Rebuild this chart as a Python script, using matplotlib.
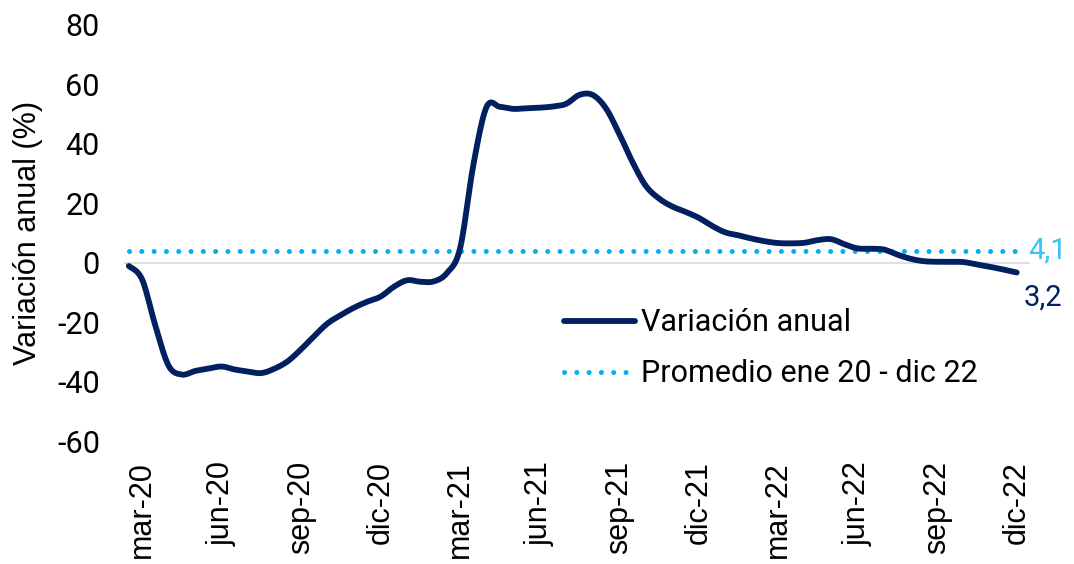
import numpy as np
from matplotlib import pyplot as plt

plt.rcParams['axes.unicode_minus'] = False

# semi-monthly readings, month index 0 = mar-20
meses = np.arange(-0.5, 33.01, 0.5)
variacion = [-1, -5.5, -21, -34.5, -37.5, -36.3, -35.5, -34.8, -35.8, -36.5,
             -37, -35.5, -33, -29, -24.5, -20.3, -17.5, -15, -13, -11.3,
             -8, -5.8, -6.3, -6.2, -3.4, 5, 33, 52.5, 52.5, 51.8,
             52, 52.2, 52.6, 53.5, 56.5, 56.5, 52, 43.5, 34, 26,
             21.7, 19, 17.2, 15.2, 12.5, 10.3, 9.3, 8.2, 7.3, 6.7,
             6.6, 6.8, 7.7, 8, 6.3, 4.9, 4.8, 4.5, 2.8, 1.4,
             0.6, 0.4, 0.4, 0.3, -0.5, -1.3, -2.2, -3.2]
promedio = 4.1
tick_pos = [0, 3, 6, 9, 12, 15, 18, 21, 24, 27, 30, 33]
tick_labels = ['mar-20', 'jun-20', 'sep-20', 'dic-20', 'mar-21', 'jun-21',
               'sep-21', 'dic-21', 'mar-22', 'jun-22', 'sep-22', 'dic-22']

NAVY = '#002060'
CELESTE = '#00B0F0'


def catmull_rom(x, y, n=12):
    # smooth curve through the points, like the Excel smoothed line
    x = np.asarray(x, float)
    y = np.asarray(y, float)
    px = np.concatenate([[x[0]], x, [x[-1]]])
    py = np.concatenate([[y[0]], y, [y[-1]]])
    t = np.linspace(0, 1, n, endpoint=False)
    xs, ys = [], []
    for i in range(1, len(px) - 2):
        for p, out in ((px, xs), (py, ys)):
            p0, p1, p2, p3 = p[i - 1], p[i], p[i + 1], p[i + 2]
            out.extend(0.5 * (2 * p1 + (-p0 + p2) * t + (2 * p0 - 5 * p1 + 4 * p2 - p3) * t ** 2
                              + (-p0 + 3 * p1 - 3 * p2 + p3) * t ** 3))
    xs.append(x[-1])
    ys.append(y[-1])
    return np.array(xs), np.array(ys)


fig = plt.figure(figsize=(10.74, 5.64), dpi=100)
ax = fig.add_axes([0.115, 0.2172, 0.844, 0.7385])

ax.axhline(0, color='#d9d9d9', lw=1.2, zorder=1)
sx, sy = catmull_rom(meses, variacion)
ax.plot(sx, sy, color=NAVY, lw=4.2, solid_capstyle='round', label='Variación anual', zorder=3)
ax.plot(meses, [promedio] * len(meses), color=CELESTE, lw=3.6, linestyle=(0, (0.01, 2.45)),
        dash_capstyle='round', label='Promedio ene 20 - dic 22', zorder=2)

ax.text(33.45, promedio, '4,1', color='#33C3F5', fontsize=21, family='Roboto', va='center', ha='left')
ax.text(33.25, -11.5, '3,2', color=NAVY, fontsize=21, family='Roboto', va='center', ha='left')

ax.set_xlim(-0.7, 33.5)
ax.set_ylim(-60, 80)
ax.set_yticks(range(-60, 81, 20))
ax.set_xticks(tick_pos)
ax.set_xticklabels(tick_labels, rotation=90, family='Liberation Sans', fontsize=22)
for lab in ax.get_yticklabels():
    lab.set_family('Roboto')
    lab.set_fontsize(22)
ax.tick_params(length=0)
ax.tick_params(axis='y', pad=17)
ax.tick_params(axis='x', pad=14)
for s in ax.spines.values():
    s.set_visible(False)
ax.set_ylabel('Variación anual (%)', family='Liberation Sans', fontsize=22, labelpad=10)

ax.legend(loc='upper left', bbox_to_anchor=(0.514, 0.475), bbox_transform=fig.transFigure,
          frameon=False, prop={'family': 'Roboto', 'size': 22}, handlelength=2.3,
          handletextpad=0.2, labelspacing=0.72, borderaxespad=0)

fig.savefig('out.png', dpi=100)
